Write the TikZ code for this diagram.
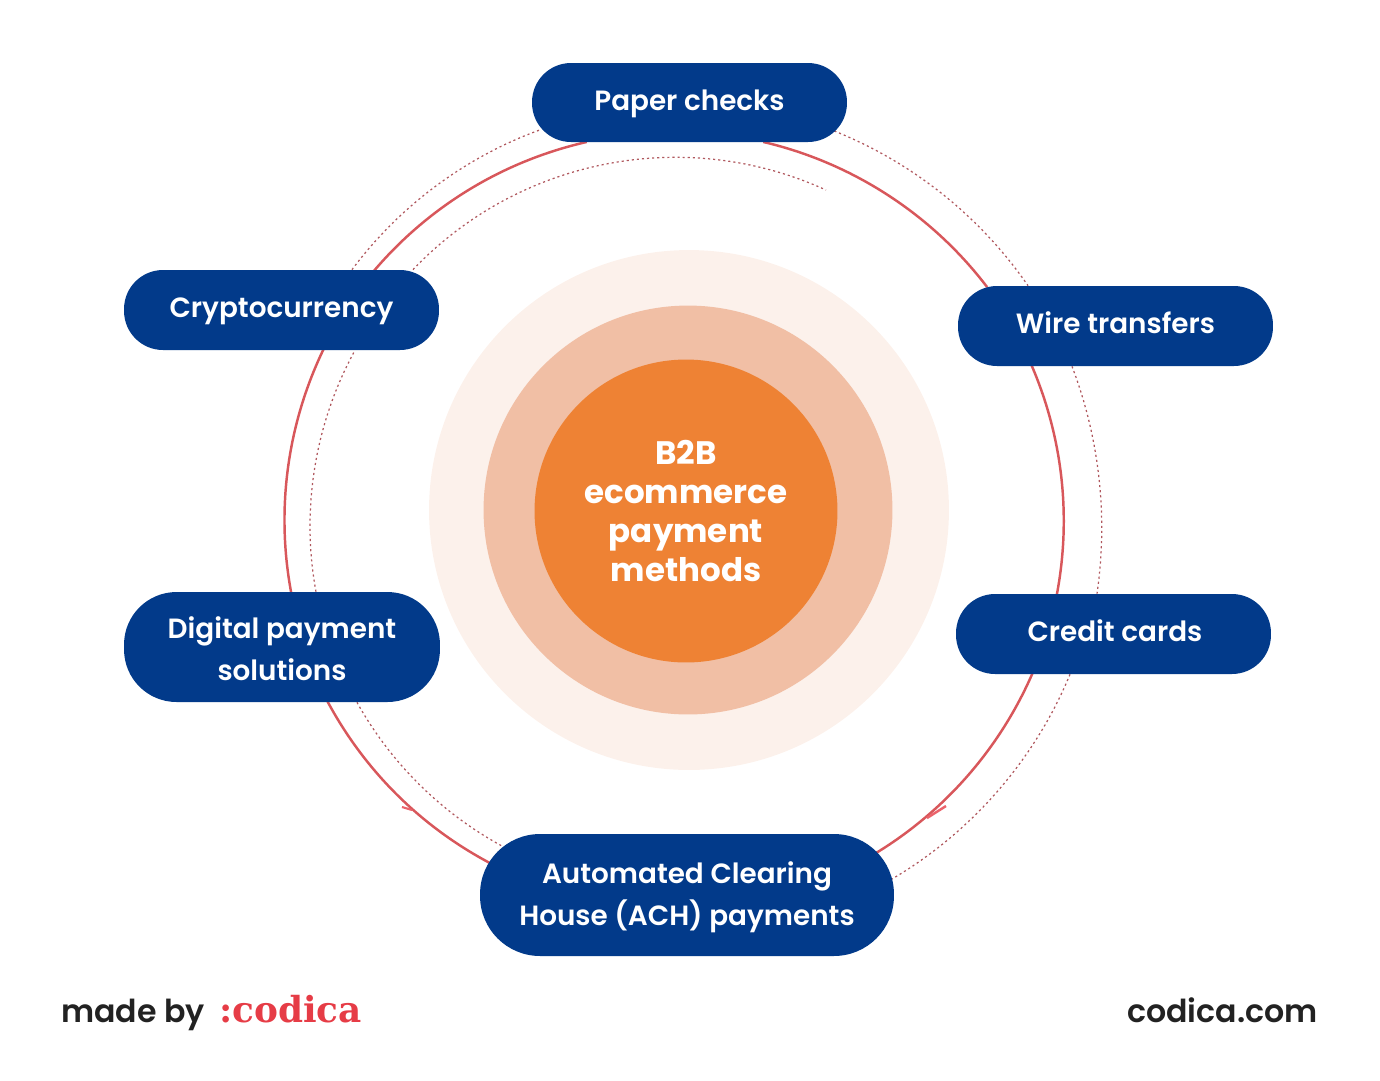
\documentclass[tikz,border=0pt]{standalone}
\usepackage{fontspec}
\setmainfont{Poppins}
\newfontfamily\pillfont{Poppins SemiBold}
\newfontfamily\logofont{DejaVu Serif}
\usepackage{tikz}
\usetikzlibrary{backgrounds}
\definecolor{navy}{HTML}{023A8A}
\definecolor{ringred}{HTML}{D8575B}
\definecolor{speckred}{HTML}{B0585E}
\definecolor{logored}{HTML}{E63C46}
\definecolor{halo}{HTML}{FCF1EB}
\definecolor{midhalo}{HTML}{F1BFA5}
\definecolor{hubor}{HTML}{EE8234}
\definecolor{inkblack}{HTML}{222222}
\def\dring{\draw[ringred,line width=1.4pt,shorten <=-1pt,shorten >=-1pt]}
\def\dspeck{\draw[speckred,line width=0.7pt,dash pattern=on 1.2pt off 1.7pt]}
\def\lift#1{\rule{0pt}{#1pt}}
\tikzset{
    pill/.style={fill=navy,text=white,align=center,inner sep=0pt,minimum width=6.3cm,
        font=\pillfont\fontsize{15.85}{23.8}\selectfont},
    onepill/.style={pill,minimum height=1.6cm,rounded corners=0.78cm,text height=12pt,text depth=3pt},
    disc/.style={circle,inner sep=0pt}
}

\begin{document}
\begin{tikzpicture}[x=0.02cm,y=-0.02cm]
                \useasboundingbox (0,0) rectangle (1380,1080);
                \node[disc,fill=halo,minimum size=10.4cm] (outerdisc) at (689,510) {};
                \node[disc,fill=midhalo,minimum size=8.18cm] (middisc) at (688,510) {};
                \node[disc,fill=hubor,minimum size=6.06cm,text=white,align=center,
                    font=\bfseries\fontsize{18.5}{22.2}\selectfont] (hub) at (686,511)
                    {B2B\\ecommerce\\payment\\methods};
                \coordinate (speckend) at (826,190);
                \node[onepill,minimum height=1.58cm] (paper) at (689.5,102.5) {Paper checks};
                \node[onepill] (crypto) at (281.5,310) {Cryptocurrency};
                \node[onepill] (wire) at (1115.5,326) {Wire transfers};
                \node[onepill] (credit) at (1113.5,634) {\hspace{1.6pt}Credit cards};
                \node[pill,minimum height=2.2cm,minimum width=6.32cm,rounded corners=1.05cm] (digital) at (282,647) {\lift{14.2}Digital payment\\solutions};
                \node[pill,minimum height=2.44cm,minimum width=8.28cm,rounded corners=1.2cm] (ach) at (687,895) {\lift{15.4}Automated Clearing\\House (ACH) payments};
                \begin{scope}[on background layer]
                \dring ([xshift=1.51cm]paper.south) to[bend left=19.8,looseness=.87] ([xshift=-2.59cm]wire.north);
                \dring ([xshift=-1.67cm]wire.south) to[bend left=17.1,looseness=.87] ([xshift=-1.13cm]credit.north);
                \dring ([xshift=-1.63cm]credit.south) to[bend left=18.85,looseness=.87] ([xshift=3.52cm,yshift=-.54cm]ach.north);
                \dring ([xshift=-3.92cm,yshift=-.6cm]ach.north) to[bend left=17.15,looseness=.87] ([xshift=.92cm]digital.south);
                \dring ([xshift=.18cm]digital.north) to[bend left=18.2,looseness=.87] ([xshift=.83cm]crypto.south);
                \dring ([xshift=1.87cm]crypto.north) to[bend left=18.4,looseness=.87] ([xshift=-2.09cm]paper.south);
                \dspeck ([xshift=-.26cm,yshift=-.57cm]paper.east) to[bend left=16.7,looseness=.87] ([xshift=-1.75cm]wire.north);
                \dspeck ([xshift=-.87cm]wire.south) to[bend left=14.5,looseness=.87] ([xshift=-.33cm]credit.north);
                \dspeck ([xshift=-.87cm]credit.south) to[bend left=18.7,looseness=.87] ([xshift=-.08cm,yshift=.3cm]ach.east);
                \dspeck ([xshift=1.41cm]crypto.north) to[bend left=16.6,looseness=.87] ([xshift=.16cm,yshift=-.55cm]paper.west);
                \dspeck ([xshift=2.63cm]crypto.north) to[bend left=35.45,looseness=.94] (speckend);
                \dspeck ([xshift=1.5cm]digital.south) to[bend right=16.4,looseness=.87] ([xshift=-3.64cm,yshift=-.28cm]ach.north);
                \dspeck ([xshift=.68cm]digital.north) to[bend left=19.7,looseness=.87] ([xshift=1.47cm]crypto.south);
                \end{scope}
                \draw[logored!80!white,line width=1.2pt] (402,807) -- (412,810);
                \draw[logored!80!white,line width=1.4pt] (927,818) -- (946,806);
                \node[anchor=base west,inner sep=0pt,text=inkblack,font=\pillfont\fontsize{18}{22}\selectfont] (madeby) at (61,1022) {made by};
                \node[anchor=base west,inner sep=0pt,text=logored,font=\logofont\bfseries\fontsize{20.4}{24}\selectfont] (logo) at (219,1022) {:codica};
                \node[anchor=base east,inner sep=0pt,text=inkblack,font=\pillfont\fontsize{18}{22}\selectfont] (site) at (1318,1022) {codica.com};
            \end{tikzpicture}
\end{document}
